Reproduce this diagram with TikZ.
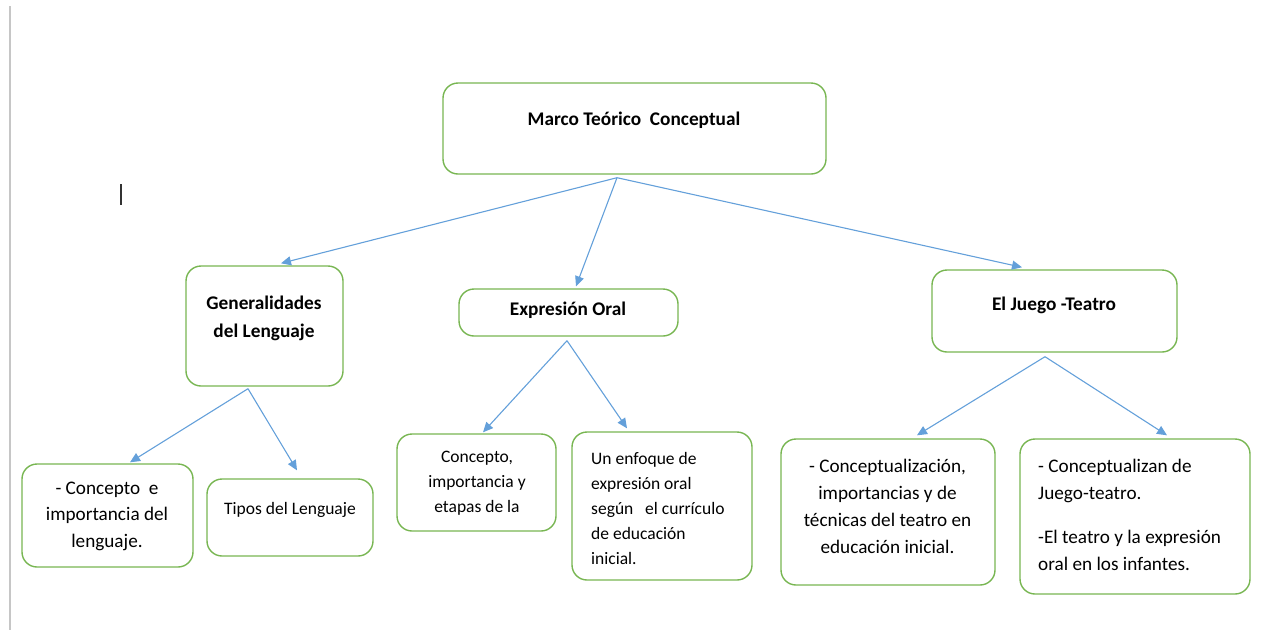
\documentclass[tikz,border=0pt]{standalone}
\usepackage{fontspec}
\setmainfont{Carlito}
\usetikzlibrary{arrows.meta}
\definecolor{boxgreen}{RGB}{120,182,82}
\definecolor{arrowblue}{RGB}{100,160,218}
\tikzset{
  box/.style={draw=boxgreen,line width=1.4,rounded corners=15,inner sep=0,fill=white},
  txt/.style={font=\fontsize{17.5}{25}\selectfont,inner sep=0,align=center},
  bigtxt/.style={txt,font=\fontsize{19.2}{27}\selectfont},
  head/.style={txt,font=\fontsize{19.3}{28}\selectfont\bfseries},
  arr/.style={draw=arrowblue,line width=1.1,-{Triangle[length=10,width=9]}},
}
\begin{document}
\begin{tikzpicture}[x=1pt,y=1pt]
\useasboundingbox(0,0)rectangle(1263,-630);
% page edge and cursor
\draw[gray!45,line width=1.5](10,-6)--(10,-630);
\draw[black!80,line width=1.5](121,-184)--(121,-205);
% boxes
\node[box,minimum width=383,minimum height=91](marco)at(634.5,-128.5){};
\node[box,minimum width=157,minimum height=120](gen)at(264.5,-326){};
\node[box,minimum width=219,minimum height=47](expr)at(568.5,-312.5){};
\node[box,minimum width=245,minimum height=82](juego)at(1054.5,-311){};
\node[box,minimum width=171,minimum height=103](concep)at(107.5,-515.5){};
\node[box,minimum width=166,minimum height=77](tipos)at(290,-517.5){};
\node[box,minimum width=159,minimum height=97](etapas)at(476.5,-482.5){};
\node[box,minimum width=180,minimum height=148](enfoque)at(662,-506){};
\node[box,minimum width=214,minimum height=146](tecnicas)at(888,-512){};
\node[box,minimum width=230,minimum height=155](infantes)at(1135,-516.5){};
% texts
\node[head](marcot)at(634,-120){Marco Teórico\ \ Conceptual};
\node[head](gent)at(264,-318){Generalidades\\del Lenguaje};
\node[head](exprt)at(568,-310){Expresión Oral};
\node[head](juegot)at(1054,-305){El Juego -Teatro};
\node[bigtxt,font=\fontsize{19.2}{26.5}\selectfont](concept)at(107,-516){- Concepto\ \ e\\importancia del\\lenguaje.};
\node[txt](tipost)at(290,-510){Tipos del Lenguaje};
\node[txt](etapast)at(477,-483){Concepto,\\importancia y\\etapas de la};
\node[txt,align=left,anchor=west](enfoquet)at(591,-508){Un enfoque de\\expresión oral\\según\ \ \ el currículo\\de educación\\inicial.};
\node[bigtxt](tecnicast)at(887.5,-506){- Conceptualización,\\importancias y de\\técnicas del teatro en\\educación inicial.};
\node[bigtxt,align=left,anchor=west](infantest)at(1038,-515){- Conceptualizan de\\Juego-teatro.\\[17pt]-El teatro y la expresión\\oral en los infantes.};
% connectors
\coordinate(marcoout)at([shift={(-17.5,-3)}]marco.south);
\coordinate(genout)at([shift={(-16.5,-2)}]gen.south);
\coordinate(exprout)at([shift={(-1.5,-4)}]expr.south);
\coordinate(juegoout)at([shift={(-9.5,-4)}]juego.south);
\draw[arr](marcoout)--([shift={(16.5,2)}]gen.north);
\draw[arr](marcoout)--([shift={(7.5,2)}]expr.north);
\draw[arr](marcoout)--([shift={(-32.5,2)}]juego.north);
\draw[arr](genout)--([shift={(22.5,1)}]concep.north);
\draw[arr](genout)--([shift={(7,8)}]tipos.north);
\draw[arr](exprout)--([shift={(6.5,1)}]etapas.north);
\draw[arr](exprout)--([shift={(-35,3)}]enfoque.north);
\draw[arr](juegoout)--([shift={(29,3)}]tecnicas.north);
\draw[arr](juegoout)--([shift={(32,3)}]infantes.north);
\end{tikzpicture}
\end{document}
